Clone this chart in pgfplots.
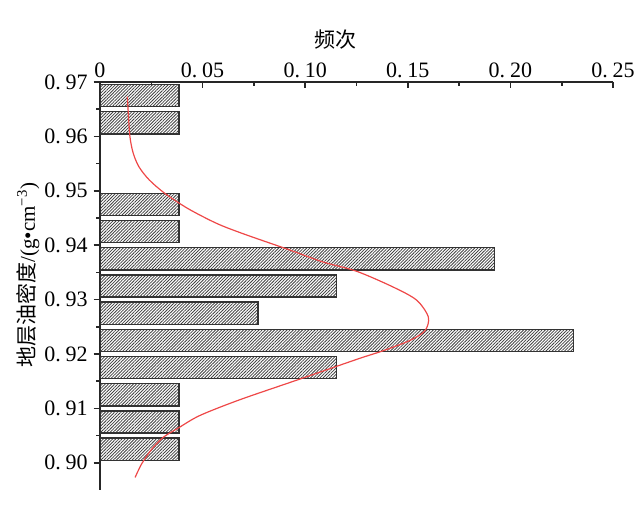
\documentclass[border=0pt]{standalone}
\usepackage{fontspec}
\setmainfont{Liberation Serif}
\newfontfamily\cjk{Noto Sans CJK SC}
\usepackage{pgfplots}
\pgfplotsset{compat=1.18}
\usetikzlibrary{patterns.meta,calc}
\definecolor{fitred}{RGB}{238,72,72}
\newcommand{\dg}{\hspace{0.22em}}

\begin{document}
\begin{tikzpicture}
\begin{axis}[
  scale only axis,
  width=256.5pt, height=204pt,
  xmin=0, xmax=0.25, ymin=0.895, ymax=0.97,
  axis x line*=top, axis y line*=left,
  axis line style={line width=0.9pt, black!85},
  xtick={0,0.05,0.1,0.15,0.2,0.25},
  xticklabels={0, 0.\dg05, 0.\dg10, 0.\dg15, 0.\dg20, 0.\dg25},
  ytick={0.90,0.91,0.92,0.93,0.94,0.95,0.96,0.97},
  yticklabels={0.\dg90, 0.\dg91, 0.\dg92, 0.\dg93, 0.\dg94, 0.\dg95, 0.\dg96, 0.\dg97},
  minor x tick num=1, minor y tick num=1,
  xtick align=inside, ytick align=outside,
  major tick length=3.2pt, minor tick length=1.8pt,
  tick style={line width=0.8pt, black!85},
  tick label style={font=\fontsize{11}{13}\selectfont},
  xticklabel style={yshift=-1.2pt},
  yticklabel style={xshift=0.6pt},
  xlabel={\cjk 频次},
  xlabel style={font=\fontsize{10.5}{12}\selectfont, at={(axis description cs:0.46,1)}, anchor=south, yshift=13pt},
  ylabel={{\cjk 地层油密度}/(g•cm\textsuperscript{−3})},
  ylabel style={font=\fontsize{10.5}{12}\selectfont, at={(axis description cs:-0.14,0.527)}, anchor=center},
]
% frequency histogram, 26 samples
\addplot[xbar, bar width=0.0041, bar shift=0pt, draw=black!80, line width=0.7pt,
  pattern={Lines[angle=45,distance=1.1pt,line width=0.4pt]}, pattern color=black!75]
  coordinates {
  (0.03846,0.9675) (0.03846,0.9625) (0.03846,0.9475) (0.03846,0.9425)
  (0.19231,0.9375) (0.11538,0.9325) (0.07692,0.9275) (0.23077,0.9225)
  (0.11538,0.9175) (0.03846,0.9125) (0.03846,0.9075) (0.03846,0.9025)
  };
% fitted curve
\addplot[smooth, tension=0.5, no marks, fitred, line width=0.6pt] coordinates {
  (0.0171,0.8973) (0.0203,0.8998) (0.0252,0.9025) (0.0309,0.9047)
  (0.0382,0.9064) (0.0487,0.9087) (0.0682,0.9116) (0.0975,0.9154)
  (0.1258,0.9191) (0.1380,0.9206) (0.1511,0.9225) (0.1584,0.9243)
  (0.1600,0.9268) (0.1543,0.9299) (0.1429,0.9323) (0.1251,0.9352)
  (0.1088,0.9369) (0.0926,0.9391) (0.0698,0.9421) (0.0569,0.9440)
  (0.0430,0.9467) (0.0317,0.9495) (0.0240,0.9520) (0.0190,0.9544)
  (0.0162,0.9569) (0.0146,0.9599) (0.0138,0.9642) (0.0133,0.9673)
};
\end{axis}
\pgfresetboundingbox
\path ($(current axis.south west)+(-50pt,-7.5pt)$) rectangle ($(current axis.north east)+(11.5pt,41pt)$);
\end{tikzpicture}
\end{document}
